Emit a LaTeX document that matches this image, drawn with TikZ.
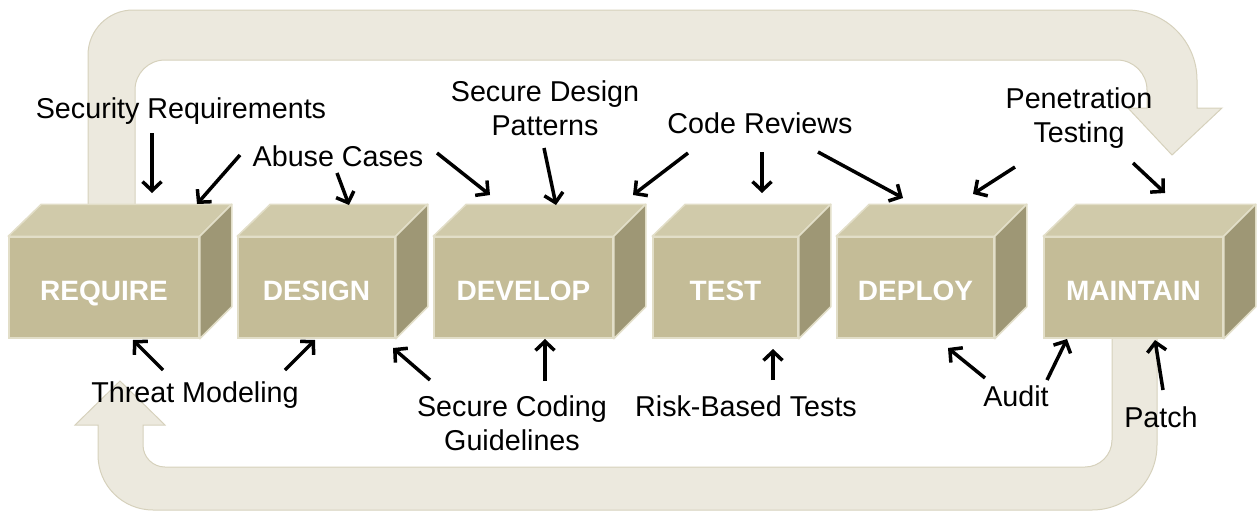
\documentclass[tikz,border=0pt]{standalone}
\usepackage{fontspec}
\setmainfont{Liberation Sans}
\usetikzlibrary{arrows.meta}
\definecolor{boxfront}{RGB}{196,188,151}
\definecolor{boxtopc}{RGB}{208,202,170}
\definecolor{boxsidec}{RGB}{158,151,117}
\definecolor{boxedge}{RGB}{226,222,200}
\definecolor{loopfill}{RGB}{236,233,222}
\definecolor{loopedge}{RGB}{214,209,188}
\begin{document}
\begin{tikzpicture}[x=1pt,y=1pt,yscale=-1,xscale=1,
    lbl/.style={inner sep=0.75pt,align=center,font=\fontsize{28.7}{34}\selectfont},
    stage/.style={draw=boxedge,line width=1.5pt,fill=boxfront,inner sep=0pt,minimum height=101pt,text height=25pt,text depth=0pt,text=white,font=\fontsize{28}{34}\selectfont\bfseries},
    topside/.style={draw=boxedge,line width=1.5pt,fill=boxtopc,line join=round},
    rightside/.style={draw=boxedge,line width=1.5pt,fill=boxsidec,line join=round},
    arr/.style={line width=3.5pt,-{Straight Barb[length=9pt,width=19pt]}},
    loop/.style={fill=loopfill,draw=loopedge,line width=1pt}]
\useasboundingbox (0,0) rectangle (1259,512);
% feedback loops
\draw [loop] (88,230) -- (88,55) .. controls (88,30.15) and (108.15,10) .. (133,10) -- (1127,10) .. controls (1165.7,10) and (1197,41.3) .. (1197,80) -- (1197,108) -- (1222,108) -- (1172,155) -- (1128,108) -- (1147,108) -- (1147,90) .. controls (1147,73.4) and (1133.6,60) .. (1117,60) -- (165,60) .. controls (148.4,60) and (135,73.4) .. (135,90) -- (135,230) -- cycle ;
\draw [loop] (1112,330) -- (1157,330) -- (1157,445) .. controls (1157,480.9) and (1127.9,510) .. (1092,510) -- (153,510) .. controls (122.6,510) and (98,485.4) .. (98,455) -- (98,425) -- (75,425) -- (120,381) -- (165,425) -- (143,425) -- (143,445) .. controls (143,457.2) and (152.8,467) .. (165,467) -- (1085,467) .. controls (1099.9,467) and (1112,454.9) .. (1112,440) -- cycle ;
% stages
\node [stage,minimum width=190pt] (req) at (104,287.5) {REQUIRE};
\node [stage,minimum width=157pt] (des) at (316.5,287.5) {DESIGN};
\node [stage,minimum width=179pt] (dev) at (523.5,287.5) {DEVELOP};
\node [stage,minimum width=145pt] (tst) at (725.5,287.5) {TEST};
\node [stage,minimum width=157pt] (dep) at (915.5,287.5) {DEPLOY};
\node [stage,minimum width=179pt] (mnt) at (1133.5,287.5) {MAINTAIN};
\foreach \b in {req,des,dev,tst,dep,mnt}{
  \draw [topside] (\b.north west) -- ++(33,-32) -- ([shift={(32,-32)}]\b.north east) -- (\b.north east) -- cycle ;
  \draw [rightside] (\b.north east) -- ++(32,-32) -- ([shift={(32,-32)}]\b.south east) -- (\b.south east) -- cycle ;
}
% practices
\node [lbl] (secreq) at (181,111) {Security Requirements};
\node [lbl] (abuse) at (338,156) {Abuse Cases};
\node [lbl] (sdp) at (545,108) {Secure Design\\Patterns};
\node [lbl] (codrev) at (760,123) {Code Reviews};
\node [lbl] (pentest) at (1079,118) {Penetration\\Testing};
\node [lbl] (threat) at (195,395) {Threat Modeling};
\node [lbl] (scg) at (512,423) {Secure Coding\\Guidelines};
\node [lbl] (rbt) at (746,406) {Risk-Based Tests};
\node [lbl] (audit) at (1016,396) {Audit};
\node [lbl] (patch) at (1161,417) {Patch};
% arrow ends
\coordinate (secreq1) at (152,133); \coordinate (req1) at (152,193);
\coordinate (abuse1) at (240,155); \coordinate (req2) at (197,204);
\coordinate (abuse2) at (337,173); \coordinate (des1) at (349,205);
\coordinate (abuse3) at (437,153); \coordinate (dev1) at (490,195);
\coordinate (sdp1) at (544,148); \coordinate (dev2) at (556,205);
\coordinate (codrev1) at (688,153); \coordinate (dev3) at (633,195);
\coordinate (codrev2) at (762,152); \coordinate (tst1) at (762,193);
\coordinate (codrev3) at (818,152); \coordinate (dep1) at (903,198);
\coordinate (pentest1) at (1015,167); \coordinate (dep2) at (973,194);
\coordinate (pentest2) at (1133,163); \coordinate (mnt1) at (1165,193);
\coordinate (threat1) at (163,370); \coordinate (req3) at (133,340);
\coordinate (threat2) at (285,370); \coordinate (des2) at (315,340);
\coordinate (scg1) at (430,380); \coordinate (des3) at (393,348);
\coordinate (scg2) at (545,381); \coordinate (dev4) at (545,339);
\coordinate (rbt1) at (773,380); \coordinate (tst2) at (773,349);
\coordinate (audit1) at (985,378); \coordinate (dep3) at (948,348);
\coordinate (audit2) at (1047,380); \coordinate (mnt2) at (1067,339);
\coordinate (patch1) at (1163,390); \coordinate (mnt3) at (1155,340);
\draw [arr] (secreq1) -- (req1);
\draw [arr] (abuse1) -- (req2);
\draw [arr] (abuse2) -- (des1);
\draw [arr] (abuse3) -- (dev1);
\draw [arr] (sdp1) -- (dev2);
\draw [arr] (codrev1) -- (dev3);
\draw [arr] (codrev2) -- (tst1);
\draw [arr] (codrev3) -- (dep1);
\draw [arr] (pentest1) -- (dep2);
\draw [arr] (pentest2) -- (mnt1);
\draw [arr] (threat1) -- (req3);
\draw [arr] (threat2) -- (des2);
\draw [arr] (scg1) -- (des3);
\draw [arr] (scg2) -- (dev4);
\draw [arr] (rbt1) -- (tst2);
\draw [arr] (audit1) -- (dep3);
\draw [arr] (audit2) -- (mnt2);
\draw [arr] (patch1) -- (mnt3);
\end{tikzpicture}
\end{document}
